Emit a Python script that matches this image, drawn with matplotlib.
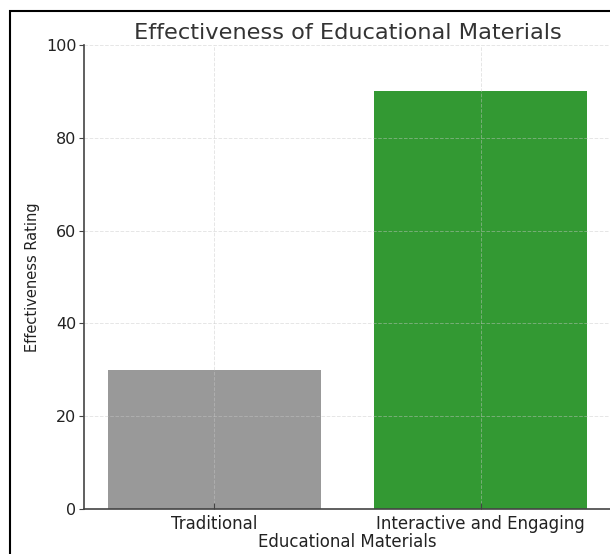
import matplotlib
matplotlib.use("Agg")
import matplotlib.pyplot as plt
from matplotlib.patches import Rectangle

categories = ["Traditional", "Interactive and Engaging"]
ratings = [30, 90]
colors = ["gray", "green"]
yticks = [0, 20, 40, 60, 80, 100]

fig = plt.figure(figsize=(6.10, 5.54), dpi=100)
ax = fig.add_axes([84/610, 1 - 509/554, (611-84)/610, (509-45)/554])

ax.bar(categories, ratings, color=colors, alpha=0.8, width=0.8, zorder=1)
ax.set_ylim(0, 100)
ax.set_yticks(yticks)
ax.set_axisbelow(False)
ax.grid(True, linestyle="--", color="#c8c8c8", linewidth=0.7, alpha=0.45, zorder=3)
for s in ["top", "right"]:
    ax.spines[s].set_visible(False)
for s in ["left", "bottom"]:
    ax.spines[s].set_color("#444444")
    ax.spines[s].set_linewidth(1.2)
ax.tick_params(axis="y", colors="#444444", labelcolor="#222222", labelsize=11.5, length=3.5, pad=2)
ax.tick_params(axis="x", direction="in", colors="#444444", labelcolor="#222222", labelsize=12, length=4, pad=4)
ax.set_title("Effectiveness of Educational Materials", fontsize=16.2, color="#333333", pad=4)
ax.set_xlabel("Educational Materials", fontsize=12, color="#222222", labelpad=0)
ax.set_ylabel("Effectiveness Rating", fontsize=10.5, color="#222222", labelpad=4)

fig.patches.append(Rectangle((10/610, -0.1), 1.2, 1 - 11/554 + 0.1, transform=fig.transFigure,
                             fill=False, edgecolor="black", linewidth=1.5, clip_on=False))
fig.savefig("out.png", dpi=100)
